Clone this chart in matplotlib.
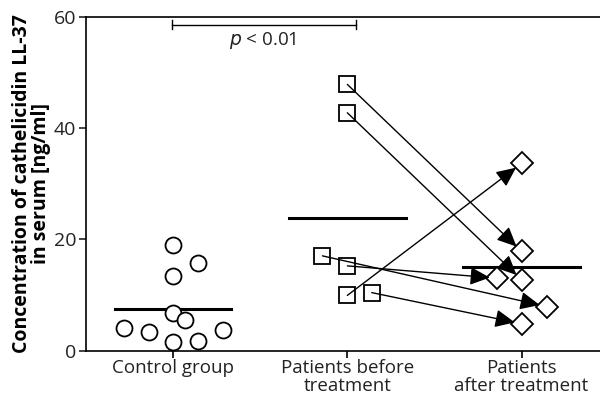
import matplotlib
matplotlib.use("Agg")
import matplotlib.pyplot as plt

plt.rcParams["font.family"] = ["Open Sans", "DejaVu Sans"]

categories = ["Control group", "Patients before\ntreatment", "Patients\nafter treatment"]

# control group values and horizontal jitter (category units)
control_vals = [18.9, 15.7, 13.4, 6.8, 5.5, 4.1, 3.3, 3.7, 1.5, 1.7]
control_dx = [0, 0.143, 0, 0, 0.071, -0.28, -0.14, 0.287, 0, 0.143]

# paired patients: before -> after
before_vals = [47.8, 42.7, 9.9, 15.2, 17.0, 10.4]
before_dx = [0, 0, 0, 0, -0.143, 0.14]
after_vals = [17.8, 12.7, 33.6, 13.0, 7.9, 4.8]
after_dx = [0, 0, 0, -0.143, 0.143, 0]

control_mean = sum(control_vals) / len(control_vals)
before_mean = sum(before_vals) / len(before_vals)
after_mean = sum(after_vals) / len(after_vals)

fig = plt.figure(figsize=(6.0, 3.98), dpi=100)
ax = fig.add_axes([86 / 600, 1 - 350.5 / 398, 1 - 86 / 600, 334 / 398])

ax.plot([0 + d for d in control_dx], control_vals, "o", ms=11.5, mfc="white",
        mec="black", mew=1.3, ls="none", zorder=3)
ax.plot([1 + d for d in before_dx], before_vals, "s", ms=11.5, mfc="white",
        mec="black", mew=1.3, ls="none", zorder=3)
ax.plot([2 + d for d in after_dx], after_vals, "D", ms=11.5, mfc="white",
        mec="black", mew=1.3, ls="none", zorder=3)

for b, bdx, a, adx in zip(before_vals, before_dx, after_vals, after_dx):
    ax.annotate("", xy=(2 + adx, a), xytext=(1 + bdx, b),
                arrowprops=dict(arrowstyle="-|>,head_length=1.2,head_width=0.55",
                                color="black", lw=1.0, shrinkA=0, shrinkB=5),
                zorder=4)

# group means
for i, m in enumerate([control_mean, before_mean, after_mean]):
    ax.plot([i - 0.335, i + 0.335], [m, m], color="black", lw=2.2, zorder=2)

# significance bracket
ax.plot([-0.005, 1.05], [58.5, 58.5], color="black", lw=1.0)
ax.plot([-0.005, -0.005], [57.7, 59.3], color="black", lw=1.0)
ax.plot([1.05, 1.05], [57.7, 59.3], color="black", lw=1.0)
ax.text(0.515, 57.6, "$\\it{p}$ < 0.01", ha="center", va="top", fontsize=13.5, color="#222222")

ax.set_xlim(-0.5, 2.45)
ax.set_ylim(0, 60)
ax.set_xticks(range(3))
ax.set_xticklabels(categories, fontsize=13.5, color="#222222", linespacing=1.0)
ax.set_yticks([0, 20, 40, 60])
ax.tick_params(axis="y", labelsize=14, colors="#222222", length=5, width=1.2, pad=2)
ax.tick_params(axis="x", length=5, width=1.2, pad=1)
for s in ax.spines.values():
    s.set_linewidth(1.2)
ax.spines["right"].set_visible(False)
ax.set_ylabel("Concentration of cathelicidin LL-37\nin serum [ng/ml]",
              fontsize=14, fontweight="bold", linespacing=0.95, labelpad=2)

fig.savefig("out.png", dpi=100)
